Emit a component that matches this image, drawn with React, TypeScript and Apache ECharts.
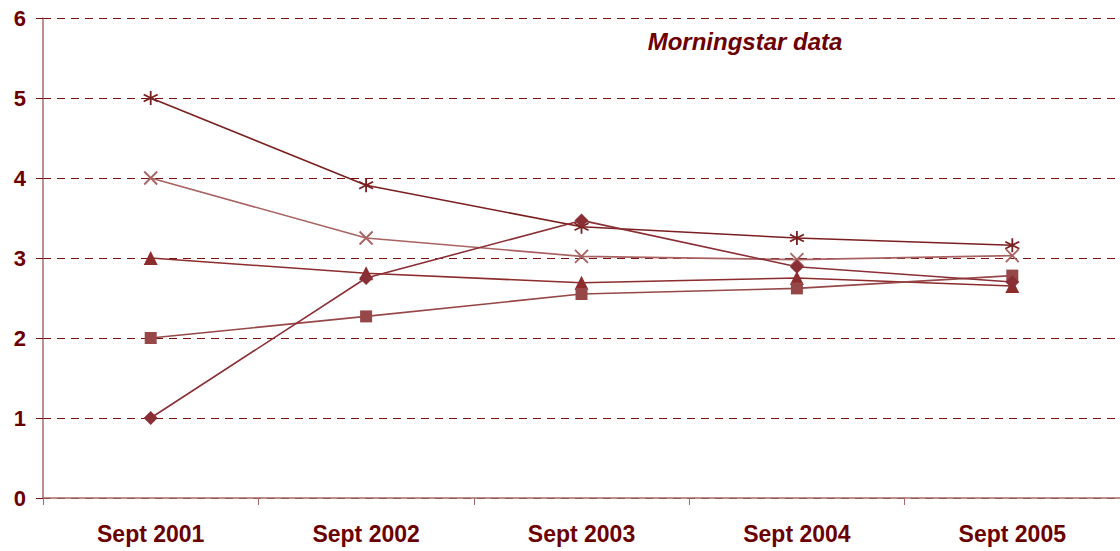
import React, { useEffect, useRef } from "react";
import * as echarts from "echarts";

const categories = ["Sept 2001", "Sept 2002", "Sept 2003", "Sept 2004", "Sept 2005"];
const starSeries = [5.0, 3.91, 3.39, 3.25, 3.16];
const crossSeries = [4.0, 3.25, 3.02, 2.98, 3.03];
const triangleSeries = [3.0, 2.81, 2.69, 2.75, 2.65];
const squareSeries = [2.0, 2.27, 2.55, 2.62, 2.78];
const diamondSeries = [1.0, 2.75, 3.47, 2.89, 2.7];
const titleText = "Morningstar data";

const TEXT = "#6b0000";
const FONT = "'Liberation Sans', Arial, sans-serif";

export default function App() {
  const ref = useRef<HTMLDivElement>(null);
  useEffect(() => {
    if (!ref.current) return;
    const chart = echarts.init(ref.current, null, { renderer: "svg" });
    const starPath = "path://M0,-6L0,6M-5.2,-3L5.2,3M-5.2,3L5.2,-3";
    const crossPath = "path://M-5,-5L5,5M-5,5L5,-5";
    const mk = (data: number[], color: string, symbol: string, size: number, stroke: boolean) => ({
      type: "line",
      data,
      symbol,
      symbolSize: size,
      showAllSymbol: true,
      lineStyle: { color, width: 1.6 },
      itemStyle: stroke
        ? { color: "none", borderColor: color, borderWidth: 1.8 }
        : { color, borderWidth: 0 },
      z: 3,
    });
    chart.setOption({
      animation: false,
      title: {
        text: titleText,
        left: 740,
        top: 24,
        textAlign: "center",
        textStyle: { color: TEXT, fontFamily: FONT, fontSize: 24, fontWeight: "bold", fontStyle: "italic" },
      },
      grid: { left: 43, top: 18, width: 1079, height: 480, containLabel: false },
      xAxis: {
        type: "category",
        data: categories,
        boundaryGap: true,
        axisLine: { lineStyle: { color: "#a66a6a", width: 1.5 } },
        axisTick: { show: true, length: 7, lineStyle: { color: "#a66a6a" } },
        axisLabel: { color: TEXT, fontFamily: FONT, fontSize: 23, fontWeight: "bold", margin: 24 },
        splitLine: { show: false },
      },
      yAxis: {
        type: "value",
        min: 0,
        max: 6,
        interval: 1,
        axisLine: { show: true, lineStyle: { color: "#a66a6a", width: 1.5 } },
        axisTick: { show: true, length: 7, lineStyle: { color: "#7a1010" } },
        axisLabel: { color: TEXT, fontFamily: FONT, fontSize: 22, fontWeight: "bold", margin: 17 },
        splitLine: { show: true, lineStyle: { color: "#7a1010", type: [8, 6], width: 1 } },
      },
      series: [
        mk(starSeries, "#7a1f1f", starPath, 14, true),
        mk(crossSeries, "#a96262", crossPath, 13, true),
        mk(triangleSeries, "#8c2c2c", "triangle", 14, false),
        mk(squareSeries, "#964848", "rect", 12, false),
        mk(diamondSeries, "#8a2f35", "diamond", 14, false),
      ],
    });
    return () => chart.dispose();
  }, []);
  return (
    <div
      ref={ref}
      style={{ position: "fixed", left: 0, top: 0, width: 1120, height: 551, background: "#fff" }}
    />
  );
}
